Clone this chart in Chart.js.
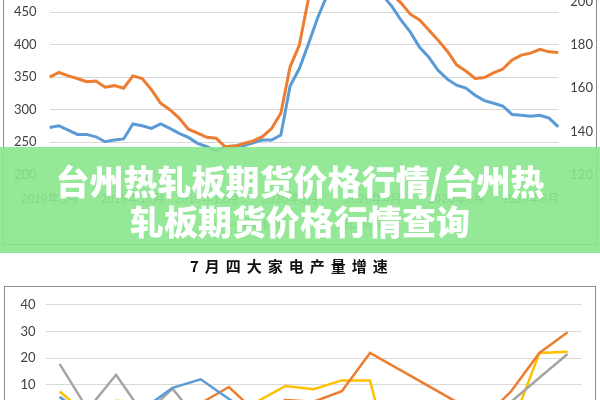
<!DOCTYPE html>
<html lang="zh">
<head>
    <meta charset="UTF-8">
    <title>台州热轧板期货价格行情</title>
    <style>
        html, body {
            margin: 0;
            padding: 0;
            width: 600px;
            height: 400px;
            overflow: hidden;
            background: #fff;
            font-family: "Noto Sans CJK SC", sans-serif;
        }
        .box {
            position: absolute;
            box-sizing: border-box;
            border: 1px solid #8c8c8c;
            background: #fff;
        }
        .box canvas { display: block; }
        #topBox { left: 3px; top: -60px; width: 594px; height: 305px; }
        #botBox { left: 4px; top: 286px; width: 592px; height: 260px; }
        #legend {
            position: absolute;
            top: 214px;
            left: 0;
            width: 600px;
            text-align: center;
            font-size: 12px;
            color: #595959;
        }
        #legend span { margin: 0 14px; }
        #legend i {
            display: inline-block;
            width: 18px;
            height: 3px;
            margin-right: 5px;
            vertical-align: middle;
        }
        #banner {
            position: absolute;
            left: 0;
            top: 147px;
            width: 600px;
            height: 106px;
            box-sizing: border-box;
            padding-top: 14px;
            background: rgba(137, 229, 141, 0.9);
            color: #fff;
            font-size: 34px;
            font-weight: 900;
            line-height: 40px;
            text-align: center;
        }
        #title {
            position: absolute;
            top: 255px;
            left: 190px;
            font-size: 15px;
            letter-spacing: 6px;
            color: #111;
            font-weight: 600;
        }
    </style>
</head>
<body>
    <div class="box" id="topBox">
        <canvas id="priceChart" width="592" height="303"></canvas>
    </div>
    <div id="legend"></div>

    <div id="banner">台州热轧板期货价格行情/台州热<br>轧板期货价格行情查询</div>

    <div id="title">7月四大家电产量增速</div>
    <div class="box" id="botBox">
        <canvas id="growthChart" width="590" height="258"></canvas>
    </div>

    <script src="https://cdn.jsdelivr.net/npm/chart.js"></script>
    <script>
        // top chart: weekly prices, two axes
        const weeks = Array.from({ length: 56 }, (_, i) => i);
        const weekTickIndex = [0, 9, 17, 26, 35, 44, 52];
        const weekTickLabels = ['2019年8月', '2019年10月', '2019年12月', '2020年2月', '2020年4月', '2020年6月', '2020年8月'];
        const legendNames = ['现货价格', '进口价格'];

        // left axis (orange)
        const spotPrice = [350, 357.5, 352, 348, 343, 344, 334.5, 337, 333, 352, 348, 331, 310, 300,
            287, 270, 264, 257.5, 256, 243, 244, 248, 252, 258.5, 271, 294.5, 366, 399.5,
            472, 487, 493, 496, 496, 494.6, 493, 490, 487, 478, 464, 447, 438, 422.6,
            407, 390, 369, 359.5, 348, 349.5, 356.5, 362.6, 376.5, 384, 387, 393, 389, 388];
        // right axis (blue)
        const importPrice = [141.8, 142.6, 140.6, 138.6, 138.6, 137.5, 135.2, 136, 136.5, 143.4, 142.6, 141.4, 143.4, 141.4,
            139.1, 137.2, 134.5, 132.9, 130.9, 132.9, 133.2, 133.4, 134.7, 136, 136, 138.3, 160.9, 169,
            180.6, 192.7, 202.8, 206, 207.9, 208.3, 207.9, 206, 202.8, 197.7, 191.3, 185.8, 178.8, 174.2,
            168.2, 164.1, 161.3, 160, 156.7, 154.2, 153, 151.7, 147.8, 147.4, 147, 147.4, 146.1, 142.1];

        // bottom chart: monthly growth of four appliances
        const months = ['2019-01', '2019-02', '2019-03', '2019-04', '2019-05', '2019-06', '2019-07', '2019-08', '2019-09', '2019-10',
            '2019-11', '2019-12', '2020-01', '2020-02', '2020-03', '2020-04', '2020-05', '2020-06', '2020-07'];
        const seriesNames = ['空调', '冰箱', '洗衣机', '彩电'];
        const acGrowth = [5.4, -2.4, -4, 1.1, 8.8, 12, 4.6, -2, -5, -8, -4, -6, -10, -7, -3, -5, -2, 0, 1];
        const fridgeGrowth = [-2, 0, -5, 1, -3, 3, 9.1, -0.8, 4.2, 3.6, 7.5, 21.9, 15.9, 9.9, 3.9, -3, 7.5, 21.9, 29.7];
        const washerGrowth = [17.8, 0.6, 13.7, -1.6, 8.5, -4.6, -3, -6, -8, -5, -10, -12, -8, -6, -4, -5, 3.6, 12.6, 21.5];
        const tvGrowth = [7.4, -1.6, 3.9, 3.2, 0, -3, -1, 3.6, 9.5, 8.3, 11.6, 11.6, -30, -20, -15, -10, -6, 21.9, 22.4];

        const orange = '#ED7D31';
        const blue = '#5B9BD5';
        const gray = '#A5A5A5';
        const yellow = '#FFC000';
        const tickFont = { family: 'Lato, "Noto Sans CJK SC"', size: 13 };

        // html legend for the top chart
        document.getElementById('legend').innerHTML = legendNames.map((n, i) =>
            '<span><i style="background:' + [orange, blue][i] + '"></i>' + n + '</span>').join('');

        new Chart(document.getElementById('priceChart'), {
            type: 'line',
            data: {
                labels: weeks,
                datasets: [
                    { label: legendNames[0], data: spotPrice, yAxisID: 'y', borderColor: orange, borderWidth: 3, pointRadius: 0 },
                    { label: legendNames[1], data: importPrice, yAxisID: 'y1', borderColor: blue, borderWidth: 3, pointRadius: 0 }
                ]
            },
            options: {
                responsive: false,
                animation: false,
                layout: { padding: { top: 38.7, left: 0, right: 0, bottom: 0 } },
                plugins: { legend: { display: false }, tooltip: { enabled: false } },
                scales: {
                    x: {
                        offset: false,
                        grid: { display: false, drawTicks: false },
                        border: { display: false },
                        ticks: {
                            autoSkip: false,
                            maxRotation: 0,
                            padding: 17,
                            color: '#595959',
                            font: { family: '"Noto Sans CJK SC"', size: 12 },
                            callback: (v, i) => {
                                const k = weekTickIndex.indexOf(i);
                                return k >= 0 ? weekTickLabels[k] : '';
                            }
                        },
                        afterFit: s => { s.height = 69.3; }
                    },
                    y: {
                        position: 'left',
                        min: 200,
                        max: 500,
                        grid: { color: '#d9d9d9', drawTicks: false },
                        border: { display: false },
                        ticks: { stepSize: 50, padding: 13, color: '#404040', font: tickFont },
                        afterFit: s => { s.width = 39.3; }
                    },
                    y1: {
                        position: 'right',
                        min: 120,
                        max: 210,
                        grid: { display: false, drawTicks: false },
                        border: { display: false },
                        ticks: {
                            stepSize: 20, padding: 12, color: '#404040', font: tickFont,
                            callback: v => (v % 20 === 0 ? v : '')
                        },
                        afterFit: s => { s.width = 37.7; }
                    }
                }
            }
        });

        new Chart(document.getElementById('growthChart'), {
            type: 'line',
            data: {
                labels: months,
                datasets: [
                    { label: seriesNames[0], data: acGrowth, borderColor: blue, borderWidth: 2.5, pointRadius: 0 },
                    { label: seriesNames[1], data: fridgeGrowth, borderColor: orange, borderWidth: 2.5, pointRadius: 0 },
                    { label: seriesNames[2], data: washerGrowth, borderColor: gray, borderWidth: 2.5, pointRadius: 0 },
                    { label: seriesNames[3], data: tvGrowth, borderColor: yellow, borderWidth: 2.5, pointRadius: 0 }
                ]
            },
            options: {
                responsive: false,
                animation: false,
                layout: { padding: { top: 14.7, right: 13.3, left: 0, bottom: 0 } },
                plugins: { legend: { display: false }, tooltip: { enabled: false } },
                scales: {
                    x: {
                        offset: true,
                        grid: { display: false, drawTicks: false },
                        border: { display: false },
                        ticks: { maxRotation: 0, color: '#595959', font: { size: 11 } },
                        afterFit: s => { s.height = 27.3; }
                    },
                    y: {
                        min: -40,
                        max: 40,
                        grid: { color: '#d9d9d9', drawTicks: false },
                        border: { display: false },
                        ticks: { stepSize: 10, padding: 10, color: '#404040', font: tickFont },
                        afterFit: s => { s.width = 40.5; }
                    }
                }
            }
        });
    </script>
</body>
</html>
